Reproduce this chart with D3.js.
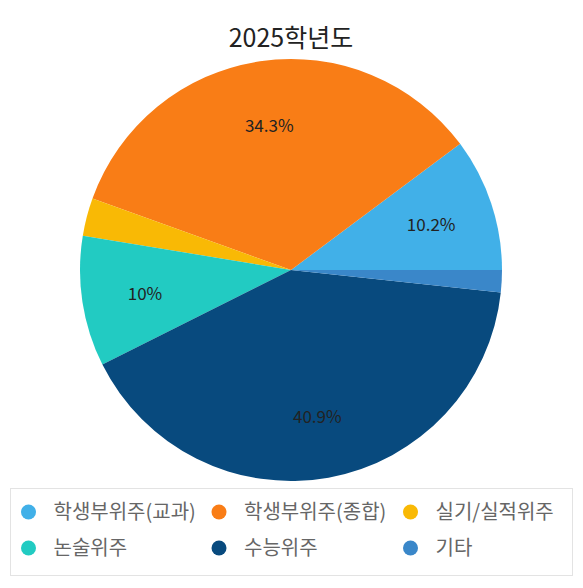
<!DOCTYPE html>
<html><head><meta charset="utf-8">
<script src="https://cdn.jsdelivr.net/npm/d3@7"></script>
<style>body{margin:0;background:#fff;font-family:"Noto Sans CJK KR","Noto Sans",sans-serif;}</style>
</head><body><svg id="c" width="583" height="588"></svg>
<script>
const categories = ["학생부위주(교과)","학생부위주(종합)","실기/실적위주","논술위주","수능위주","기타"];
const values = [10.2, 34.3, 2.9, 10, 40.9, 1.7];
const colors = ["#41b0e8","#f97d16","#f9b905","#22cbc2","#084a7e","#3a87c9"];
const title = "2025학년도";

const svg = d3.select("#c");
const cx = 291, cy = 270, R = 211;
svg.append("text").attr("x", 291).attr("y", 47).attr("text-anchor","middle")
  .attr("font-size", 25).attr("fill","#222").text(title);

const pie = d3.pie().sort(null).startAngle(Math.PI/2).endAngle(Math.PI/2 - 2*Math.PI);
const arcs = pie(values);
const arc = d3.arc().innerRadius(0).outerRadius(R);
const labelArc = d3.arc().innerRadius(R*0.7).outerRadius(R*0.7);
const g = svg.append("g").attr("transform", `translate(${cx},${cy})`);
g.selectAll("path").data(arcs).join("path").attr("d", arc).attr("fill", (d,i)=>colors[i]);
g.selectAll("text").data(arcs.filter(d=>d.data>=5)).join("text")
  .attr("transform", d=>`translate(${labelArc.centroid(d)})`)
  .attr("text-anchor","middle").attr("dy","0.45em").attr("font-size",17).attr("fill","#222")
  .text(d=>d.data+"%");

// legend
svg.append("rect").attr("x",10.5).attr("y",488.5).attr("width",562).attr("height",87)
  .attr("fill","#fff").attr("stroke","#e3e3e3");
const colX = [28.5, 219, 410.5], rowY = [512, 548];
const lg = svg.selectAll("g.lg").data(categories).join("g").attr("class","lg")
  .attr("transform",(d,i)=>`translate(${colX[i%3]},${rowY[Math.floor(i/3)]})`);
lg.append("circle").attr("r",7.5).attr("fill",(d,i)=>colors[i]);
lg.append("text").attr("x",25).attr("dy","0.35em").attr("font-size",20).attr("fill","#666").text(d=>d);
</script></body></html>
